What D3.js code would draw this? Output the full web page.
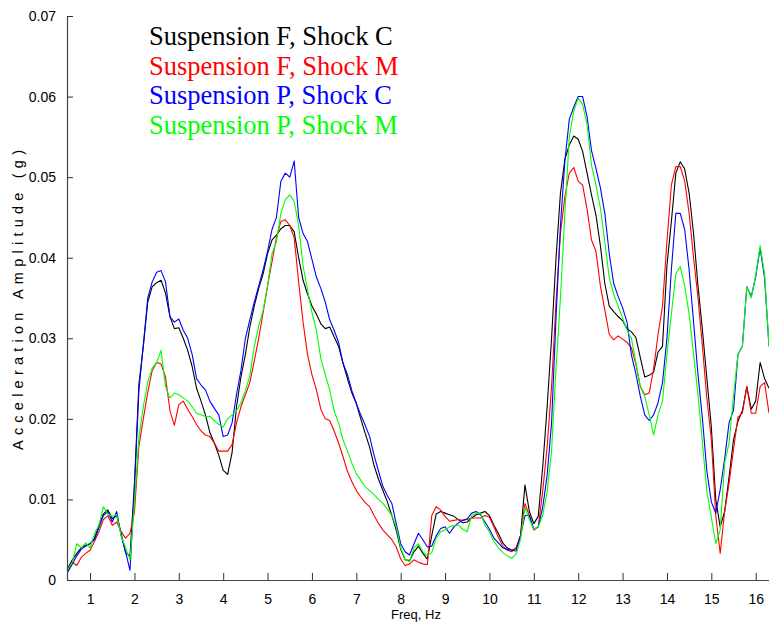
<!DOCTYPE html>
<html>
<head>
<meta charset="utf-8">
<script src="https://cdn.jsdelivr.net/npm/d3@7"></script>
<style>
  html, body { margin: 0; padding: 0; background: #fff; }
  svg { display: block; }
  .tick text { font-family: "Liberation Sans", Arial, sans-serif; font-size: 14px; fill: #000; }
</style>
</head>
<body>
<svg id="chart" width="769" height="626"></svg>
<script>
// Frequency grid (Hz), sampled every 0.1 Hz
const freq = d3.range(5, 164).map(i => i / 10);

const seriesNames = [
  "Suspension F, Shock C",
  "Suspension F, Shock M",
  "Suspension P, Shock C",
  "Suspension P, Shock M"
];
const seriesColors = ["#000000", "#ff0000", "#0000ff", "#00ff00"];

// Acceleration amplitude (g) per frequency
const suspFShockC = [
  0.0015, 0.0025, 0.0033, 0.0040, 0.0043, 0.0045, 0.0052, 0.0068, 0.0082, 0.0087,
  0.0076, 0.0080, 0.0058, 0.0034, 0.0030, 0.0120, 0.0243, 0.0290, 0.0345, 0.0364,
  0.0369, 0.0372, 0.0356, 0.0327, 0.0312, 0.0313, 0.0300, 0.0285, 0.0265, 0.0238,
  0.0222, 0.0205, 0.0183, 0.0170, 0.0155, 0.0136, 0.0131, 0.0158, 0.0215, 0.0252,
  0.0280, 0.0314, 0.0340, 0.0362, 0.0380, 0.0405, 0.0422, 0.0428, 0.0436, 0.0440,
  0.0440, 0.0432, 0.0400, 0.0372, 0.0355, 0.0340, 0.0330, 0.0318, 0.0312, 0.0314,
  0.0302, 0.0290, 0.0269, 0.0250, 0.0232, 0.0219, 0.0200, 0.0182, 0.0165, 0.0142,
  0.0125, 0.0111, 0.0097, 0.0080, 0.0062, 0.0038, 0.0025, 0.0024, 0.0035, 0.0042,
  0.0033, 0.0026, 0.0055, 0.0082, 0.0085, 0.0083, 0.0081, 0.0079, 0.0075, 0.0071,
  0.0072, 0.0077, 0.0081, 0.0083, 0.0085, 0.0080, 0.0068, 0.0058, 0.0046, 0.0040,
  0.0037, 0.0039, 0.0055, 0.0118, 0.0085, 0.0070, 0.0079, 0.0140, 0.0215, 0.0300,
  0.0399, 0.0480, 0.0522, 0.0540, 0.0551, 0.0547, 0.0532, 0.0505, 0.0478, 0.0453,
  0.0415, 0.0368, 0.0340, 0.0333, 0.0327, 0.0322, 0.0312, 0.0308, 0.0301, 0.0276,
  0.0252, 0.0254, 0.0258, 0.0283, 0.0290, 0.0390, 0.0445, 0.0505, 0.0519, 0.0510,
  0.0480, 0.0430, 0.0365, 0.0310, 0.0250, 0.0190, 0.0100, 0.0066, 0.0085, 0.0128,
  0.0174, 0.0197, 0.0210, 0.0240, 0.0212, 0.0222, 0.0270, 0.0250, 0.0238
];
const suspFShockM = [
  0.0012, 0.0022, 0.0018, 0.0028, 0.0033, 0.0037, 0.0048, 0.0060, 0.0075, 0.0080,
  0.0068, 0.0072, 0.0060, 0.0052, 0.0058, 0.0084, 0.0166, 0.0200, 0.0233, 0.0260,
  0.0270, 0.0268, 0.0252, 0.0210, 0.0192, 0.0218, 0.0222, 0.0212, 0.0203, 0.0193,
  0.0185, 0.0180, 0.0178, 0.0170, 0.0160, 0.0160, 0.0160, 0.0168, 0.0195, 0.0215,
  0.0230, 0.0245, 0.0272, 0.0300, 0.0332, 0.0365, 0.0395, 0.0425, 0.0445, 0.0447,
  0.0440, 0.0425, 0.0370, 0.0320, 0.0280, 0.0255, 0.0236, 0.0212, 0.0200, 0.0198,
  0.0185, 0.0170, 0.0153, 0.0135, 0.0122, 0.0111, 0.0103, 0.0096, 0.0091, 0.0080,
  0.0070, 0.0062, 0.0056, 0.0050, 0.0041, 0.0026, 0.0018, 0.0020, 0.0025, 0.0022,
  0.0020, 0.0019, 0.0080, 0.0091, 0.0087, 0.0079, 0.0073, 0.0074, 0.0075, 0.0074,
  0.0075, 0.0077, 0.0077, 0.0077, 0.0080, 0.0078, 0.0066, 0.0053, 0.0042, 0.0037,
  0.0035, 0.0040, 0.0055, 0.0095, 0.0080, 0.0062, 0.0066, 0.0110, 0.0165, 0.0240,
  0.0345, 0.0430, 0.0476, 0.0505, 0.0512, 0.0495, 0.0490, 0.0460, 0.0422, 0.0408,
  0.0365, 0.0335, 0.0305, 0.0298, 0.0303, 0.0299, 0.0295, 0.0288, 0.0268, 0.0240,
  0.0230, 0.0232, 0.0262, 0.0305, 0.0340, 0.0420, 0.0490, 0.0513, 0.0513, 0.0495,
  0.0455, 0.0400, 0.0350, 0.0290, 0.0225, 0.0175, 0.0080, 0.0033, 0.0085, 0.0120,
  0.0162, 0.0202, 0.0207, 0.0240, 0.0207, 0.0207, 0.0240, 0.0245, 0.0207
];
const suspPShockC = [
  0.0010, 0.0020, 0.0030, 0.0038, 0.0042, 0.0045, 0.0050, 0.0065, 0.0080, 0.0085,
  0.0072, 0.0085, 0.0055, 0.0035, 0.0012, 0.0113, 0.0235, 0.0292, 0.0350, 0.0370,
  0.0382, 0.0384, 0.0370, 0.0327, 0.0320, 0.0324, 0.0310, 0.0300, 0.0280, 0.0250,
  0.0242, 0.0236, 0.0222, 0.0213, 0.0205, 0.0178, 0.0180, 0.0195, 0.0230, 0.0260,
  0.0300, 0.0323, 0.0345, 0.0365, 0.0385, 0.0408, 0.0435, 0.0450, 0.0495, 0.0505,
  0.0500, 0.0520, 0.0450, 0.0430, 0.0420, 0.0398, 0.0376, 0.0362, 0.0345, 0.0323,
  0.0310, 0.0295, 0.0269, 0.0255, 0.0235, 0.0219, 0.0205, 0.0192, 0.0178, 0.0155,
  0.0135, 0.0116, 0.0105, 0.0095, 0.0070, 0.0045, 0.0035, 0.0031, 0.0045, 0.0058,
  0.0050, 0.0041, 0.0042, 0.0055, 0.0064, 0.0066, 0.0058, 0.0066, 0.0071, 0.0074,
  0.0076, 0.0083, 0.0085, 0.0081, 0.0072, 0.0063, 0.0052, 0.0046, 0.0040, 0.0038,
  0.0037, 0.0036, 0.0055, 0.0080, 0.0080, 0.0063, 0.0066, 0.0090, 0.0130, 0.0195,
  0.0325, 0.0440, 0.0520, 0.0572, 0.0587, 0.0600, 0.0600, 0.0575, 0.0533, 0.0511,
  0.0487, 0.0455, 0.0405, 0.0368, 0.0352, 0.0338, 0.0320, 0.0279, 0.0256, 0.0228,
  0.0205, 0.0198, 0.0205, 0.0220, 0.0245, 0.0300, 0.0385, 0.0455, 0.0455, 0.0435,
  0.0385, 0.0320, 0.0255, 0.0200, 0.0135, 0.0097, 0.0083, 0.0112, 0.0150, 0.0195,
  0.0211, 0.0280, 0.0290, 0.0364, 0.0352, 0.0376, 0.0412, 0.0375, 0.0290
];
const suspPShockM = [
  0.0013, 0.0022, 0.0045, 0.0040, 0.0046, 0.0040, 0.0058, 0.0068, 0.0091, 0.0082,
  0.0079, 0.0081, 0.0055, 0.0040, 0.0025, 0.0096, 0.0177, 0.0215, 0.0246, 0.0263,
  0.0270, 0.0285, 0.0240, 0.0226, 0.0232, 0.0230, 0.0226, 0.0222, 0.0215, 0.0207,
  0.0205, 0.0203, 0.0203, 0.0198, 0.0193, 0.0190, 0.0200, 0.0205, 0.0210, 0.0220,
  0.0235, 0.0253, 0.0290, 0.0315, 0.0335, 0.0365, 0.0405, 0.0420, 0.0455, 0.0472,
  0.0478, 0.0470, 0.0440, 0.0390, 0.0360, 0.0332, 0.0310, 0.0275, 0.0255, 0.0236,
  0.0210, 0.0195, 0.0174, 0.0160, 0.0145, 0.0132, 0.0124, 0.0116, 0.0111, 0.0106,
  0.0100, 0.0095, 0.0088, 0.0080, 0.0066, 0.0040, 0.0025, 0.0023, 0.0040, 0.0045,
  0.0035, 0.0030, 0.0034, 0.0052, 0.0060, 0.0062, 0.0066, 0.0068, 0.0068, 0.0063,
  0.0060, 0.0080, 0.0083, 0.0083, 0.0068, 0.0060, 0.0048, 0.0040, 0.0034, 0.0030,
  0.0027, 0.0032, 0.0050, 0.0090, 0.0075, 0.0063, 0.0066, 0.0080, 0.0110, 0.0160,
  0.0263, 0.0350, 0.0455, 0.0550, 0.0582, 0.0598, 0.0590, 0.0565, 0.0515, 0.0490,
  0.0462, 0.0420, 0.0375, 0.0355, 0.0340, 0.0325, 0.0310, 0.0300, 0.0270, 0.0240,
  0.0228, 0.0205, 0.0180, 0.0205, 0.0222, 0.0280, 0.0330, 0.0380, 0.0389, 0.0365,
  0.0330, 0.0280, 0.0230, 0.0170, 0.0110, 0.0078, 0.0045, 0.0062, 0.0145, 0.0170,
  0.0228, 0.0280, 0.0290, 0.0364, 0.0350, 0.0378, 0.0415, 0.0380, 0.0290
];
const seriesValues = [suspFShockC, suspFShockM, suspPShockC, suspPShockM];

const xTicks = d3.range(1, 17);
const yTicks = [0, 0.01, 0.02, 0.03, 0.04, 0.05, 0.06, 0.07];

const svg = d3.select("#chart");
const margin = { left: 67, right: 0, top: 16, bottom: 46 };
const W = 769, H = 626;

const x = d3.scaleLinear().domain([0.48, 16.3]).range([margin.left, W - margin.right]);
const y = d3.scaleLinear().domain([0, 0.07]).range([H - margin.bottom, margin.top]);

const plot = svg.append("g");
plot.append("clipPath").attr("id", "clip")
  .append("rect")
  .attr("x", margin.left).attr("y", margin.top)
  .attr("width", W - margin.left - margin.right)
  .attr("height", H - margin.top - margin.bottom);

const line = d3.line()
  .x((d, i) => x(freq[i]))
  .y(d => y(d));

const lines = plot.append("g").attr("clip-path", "url(#clip)");
seriesValues.forEach((vals, k) => {
  lines.append("path")
    .datum(vals)
    .attr("fill", "none")
    .attr("stroke", seriesColors[k])
    .attr("stroke-width", 1.1)
    .attr("stroke-linejoin", "round")
    .attr("d", line);
});

// Axes with inward ticks
const xAxis = svg.append("g")
  .attr("transform", `translate(0,${H - margin.bottom})`)
  .call(d3.axisBottom(x).tickValues(xTicks).tickSizeInner(-7).tickSizeOuter(0).tickPadding(14).tickFormat(d3.format("d")));
const yAxis = svg.append("g")
  .attr("transform", `translate(${margin.left},0)`)
  .call(d3.axisLeft(y).tickValues(yTicks).tickSizeInner(-6).tickSizeOuter(0).tickPadding(11)
    .tickFormat(d => d === 0 ? "0" : d3.format(".2f")(d)));

[xAxis, yAxis].forEach(a => {
  a.select(".domain").attr("stroke", "#444").attr("stroke-width", 1.2);
  a.selectAll(".tick line").attr("stroke", "#333").attr("stroke-width", 1);
});

// Axis titles
svg.append("text")
  .attr("x", 416).attr("y", 619)
  .attr("text-anchor", "middle")
  .style("font-family", "'Liberation Sans', Arial, sans-serif")
  .style("font-size", "13px")
  .text("Freq, Hz");

svg.append("text")
  .attr("transform", "translate(23,300) rotate(-90)")
  .attr("x", -150)
  .attr("textLength", 300)
  .attr("lengthAdjust", "spacing")
  .style("font-family", "'Liberation Sans', Arial, sans-serif")
  .style("font-size", "14.5px")
  .text("Acceleration Amplitude  (g)");

// Legend (coloured text only)
const legend = svg.append("g");
seriesNames.forEach((name, k) => {
  legend.append("text")
    .attr("x", 149)
    .attr("y", 45 + k * 29.7)
    .attr("fill", seriesColors[k])
    .style("font-family", "'Liberation Serif', 'Times New Roman', serif")
    .style("font-size", "26.5px")
    .text(name);
});
</script>
</body>
</html>
